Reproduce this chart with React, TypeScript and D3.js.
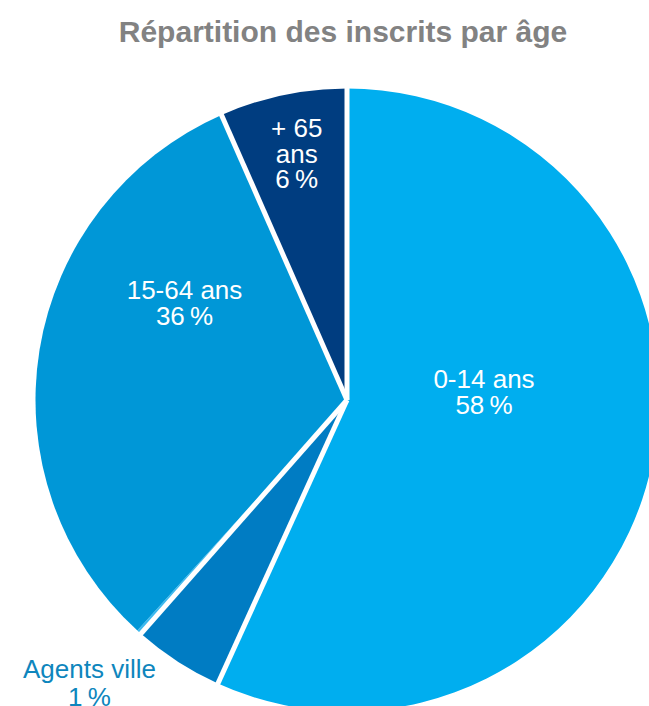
import * as d3 from "d3";
import { useEffect, useRef } from "react";

// slices, clockwise from 12 o'clock
const categories = ["0-14 ans", "Autres", "Agents ville", "15-64 ans", "+ 65 ans"];
const values = [56.8, 4.7, 0.25, 31.65, 6.6];
const colorsList = ["#00aeef", "#007cc3", "#3ab9ef", "#0097d7", "#003d80"];
// printed labels (lines) for each slice
const labelLines = [
    ["0-14 ans", "58\u202F%"],
    [],
    ["Agents ville", "1\u202F%"],
    ["15-64 ans", "36\u202F%"],
    ["+ 65", "ans", "6\u202F%"],
];
const title = "Répartition des inscrits par âge";

function pieChart(svgEl: SVGSVGElement) {
    const width = 649;
    const height = 706;
    const cx = 347;
    const cy = 400;
    const radius = 311.5;
    const font = "'Liberation Sans', Arial, Helvetica, sans-serif";

    // label anchor (first baseline), relative to the pie centre
    const labelPos: Record<string, { dx: number; dy: number; color: string; lh: number }> = {
        "0-14 ans": { dx: 137, dy: -12, color: "#ffffff", lh: 26 },
        "Agents ville": { dx: -257.5, dy: 278.3, color: "#0e86bd", lh: 27.3 },
        "15-64 ans": { dx: -162.5, dy: -101, color: "#ffffff", lh: 26 },
        "+ 65 ans": { dx: -50.3, dy: -263.3, color: "#ffffff", lh: 25.8 },
    };

    const data = categories.map((c, i) => ({ name: c, value: values[i], color: colorsList[i], lines: labelLines[i] }));

    const svg = d3.select(svgEl);
    svg.selectAll("*").remove();
    svg.attr("width", width).attr("height", height);

    svg.append("text")
        .text(title)
        .attr("x", 343)
        .attr("y", 41.5)
        .attr("text-anchor", "middle")
        .style("font-family", font)
        .style("font-weight", "bold")
        .style("font-size", "30px")
        .style("fill", "#828282");

    const g = svg.append("g").attr("transform", "translate(" + cx + "," + cy + ")");

    const pie = d3.pie<any>().sort(null).value((d: any) => d.value);
    const arcs = pie(data);
    const arc = d3.arc<d3.PieArcDatum<any>>().innerRadius(0).outerRadius(radius);

    g.selectAll("path.slice")
        .data(arcs)
        .enter()
        .append("path")
        .attr("class", "slice")
        .attr("d", arc)
        .attr("fill", (d: any) => d.data.color);

    // white separators, none between "Agents ville" and "15-64 ans"
    const seps = arcs.filter((d: any, i: number) => i === 0 || data[i - 1].name !== "Agents ville");
    g.selectAll("line.sep")
        .data(seps)
        .enter()
        .append("line")
        .attr("class", "sep")
        .attr("x1", 0)
        .attr("y1", 0)
        .attr("x2", (d: any) => Math.sin(d.startAngle) * (radius + 3))
        .attr("y2", (d: any) => -Math.cos(d.startAngle) * (radius + 3))
        .attr("stroke", "#ffffff")
        .attr("stroke-width", 5);

    const labels = g.selectAll("text.label")
        .data(data.filter((d) => d.lines.length > 0))
        .enter()
        .append("text")
        .attr("class", "label")
        .attr("text-anchor", "middle")
        .style("font-family", font)
        .style("font-size", "26px")
        .style("fill", (d: any) => labelPos[d.name].color);

    labels.selectAll("tspan")
        .data((d: any) => d.lines.map((l: string, i: number) => ({ l, i, p: labelPos[d.name] })))
        .enter()
        .append("tspan")
        .attr("x", (t: any) => t.p.dx)
        .attr("y", (t: any) => t.p.dy + t.i * t.p.lh)
        .text((t: any) => t.l);
}

export default function App() {
    const svgRef = useRef<SVGSVGElement>(null);
    useEffect(() => {
        if (svgRef.current) pieChart(svgRef.current);
    }, []);

    return (
        <svg ref={svgRef} style={{ position: "absolute", left: 0, top: 0, display: "block" }} />
    );
}
